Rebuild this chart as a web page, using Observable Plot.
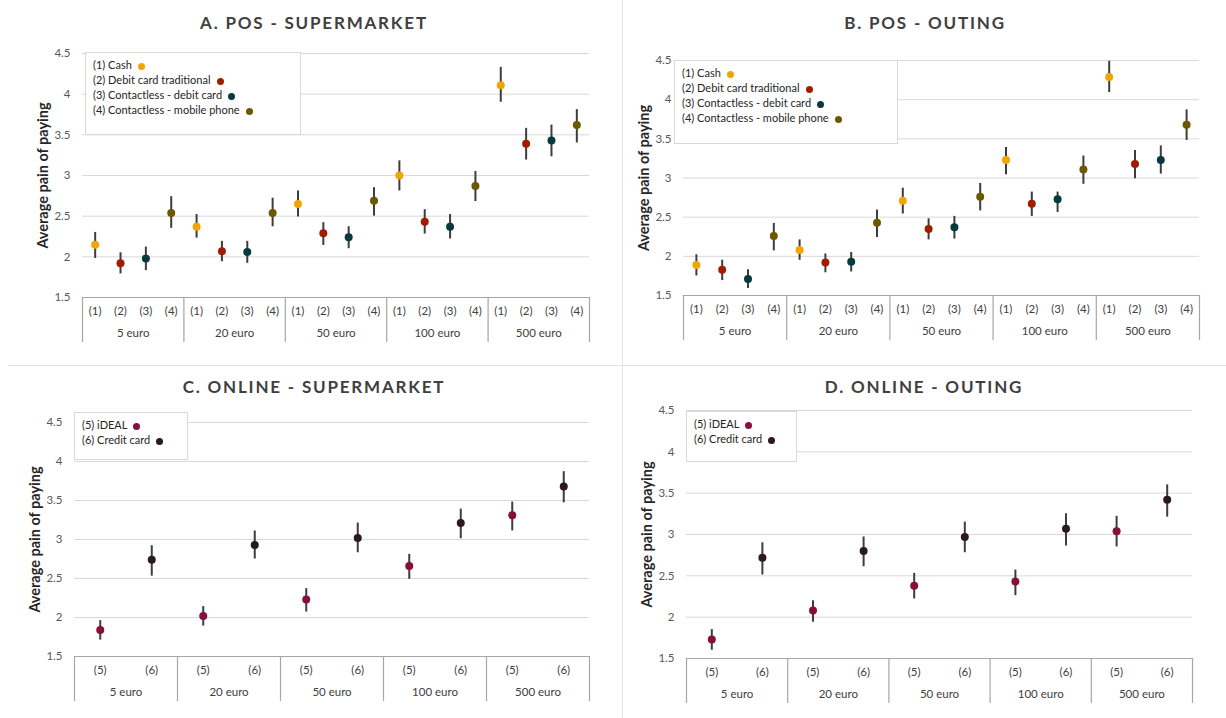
<!DOCTYPE html>
<html>
<head>
<meta charset="utf-8">
<script src="https://cdn.jsdelivr.net/npm/d3@7"></script>
<script src="https://cdn.jsdelivr.net/npm/@observablehq/plot@0.6"></script>
<style>
  body { margin: 0; background: #fff; }
  #page { position: relative; width: 1226px; height: 718px; overflow: hidden; font-family: Lato, "Open Sans", sans-serif; background: #fff; }
  .panel { position: absolute; }
  .panel svg { position: absolute; left: 0; top: 0; }
  .title { position: absolute; transform: translate(-50%, -50%); white-space: nowrap; font-weight: 700; font-size: 17px; letter-spacing: 1.8px; color: #404040; }
  .legend { position: absolute; background: #fff; border: 1px solid #d9d9d9; box-sizing: border-box; padding: 4px 0 0 7px; font-size: 11px; color: #262626; }
  .legend div { height: 15px; line-height: 15px; white-space: nowrap; }
  .dot { display: inline-block; width: 7px; height: 7px; border-radius: 50%; margin-left: 6px; vertical-align: -1px; }
  .hline { position: absolute; left: 8px; right: 0; top: 365px; height: 1px; background: #e3e3e3; }
  .vline { position: absolute; left: 622px; top: 0; bottom: 0; width: 1px; background: #e3e3e3; }
</style>
</head>
<body>
<div id="page">
  <div class="hline"></div>
  <div class="vline"></div>
</div>
<script>
// ---------- data ----------
const amounts = ["5 euro", "20 euro", "50 euro", "100 euro", "500 euro"];
const posMethods = ["(1) Cash", "(2) Debit card traditional", "(3) Contactless - debit card", "(4) Contactless - mobile phone"];
const posCodes = ["(1)", "(2)", "(3)", "(4)"];
const posColors = ["#f2a500", "#a11d00", "#063a3c", "#6b5800"];
const onlineMethods = ["(5) iDEAL", "(6) Credit card"];
const onlineCodes = ["(5)", "(6)"];
const onlineColors = ["#870f3e", "#2a1a1b"];
const yTicks = [1.5, 2, 2.5, 3, 3.5, 4, 4.5];

// A. POS - Supermarket (rows: methods, columns: amounts)
const aMean = [
  [2.15, 2.37, 2.65, 3.00, 4.11],
  [1.92, 2.07, 2.29, 2.43, 3.39],
  [1.98, 2.06, 2.24, 2.37, 3.43],
  [2.54, 2.54, 2.69, 2.87, 3.62]];
const aLow = [
  [1.98, 2.23, 2.49, 2.81, 3.90],
  [1.79, 1.94, 2.14, 2.28, 3.19],
  [1.83, 1.92, 2.10, 2.22, 3.23],
  [2.35, 2.37, 2.50, 2.68, 3.40]];
const aHigh = [
  [2.30, 2.52, 2.81, 3.18, 4.33],
  [2.05, 2.19, 2.42, 2.58, 3.58],
  [2.12, 2.19, 2.37, 2.52, 3.62],
  [2.74, 2.72, 2.85, 3.05, 3.81]];

// B. POS - Outing
const bMean = [
  [1.89, 2.08, 2.71, 3.23, 4.29],
  [1.83, 1.92, 2.35, 2.67, 3.18],
  [1.71, 1.93, 2.37, 2.73, 3.23],
  [2.26, 2.43, 2.76, 3.11, 3.68]];
const bLow = [
  [1.75, 1.95, 2.54, 3.04, 4.09],
  [1.69, 1.79, 2.21, 2.51, 2.99],
  [1.59, 1.80, 2.22, 2.56, 3.05],
  [2.07, 2.24, 2.58, 2.92, 3.48]];
const bHigh = [
  [2.02, 2.21, 2.87, 3.39, 4.49],
  [1.95, 2.03, 2.48, 2.82, 3.35],
  [1.83, 2.05, 2.51, 2.82, 3.41],
  [2.42, 2.59, 2.93, 3.28, 3.87]];

// C. Online - Supermarket
const cMean = [[1.84, 2.02, 2.23, 2.66, 3.31], [2.74, 2.93, 3.02, 3.21, 3.68]];
const cLow  = [[1.71, 1.89, 2.07, 2.49, 3.11], [2.53, 2.75, 2.83, 3.01, 3.47]];
const cHigh = [[1.96, 2.14, 2.37, 2.81, 3.48], [2.92, 3.11, 3.21, 3.39, 3.87]];

// D. Online - Outing
const dMean = [[1.73, 2.08, 2.38, 2.43, 3.04], [2.72, 2.80, 2.97, 3.07, 3.42]];
const dLow  = [[1.60, 1.94, 2.22, 2.26, 2.85], [2.51, 2.61, 2.78, 2.86, 3.21]];
const dHigh = [[1.85, 2.20, 2.53, 2.57, 3.22], [2.90, 2.97, 3.15, 3.25, 3.60]];

// ---------- drawing ----------
function makeRows(methods, codes, mean, lo, hi) {
  const n = methods.length, rows = [];
  amounts.forEach((amount, g) => methods.forEach((method, k) => rows.push({
    amount, method, code: codes[k], pos: g * n + k + 0.5,
    mean: mean[k][g], lo: lo[k][g], hi: hi[k][g]
  })));
  return rows;
}

function panel(cfg) {
  const n = cfg.methods.length;
  const rows = makeRows(cfg.methods, cfg.codes, cfg.mean, cfg.lo, cfg.hi);
  const bounds = amounts.map((a, g) => g * n).concat([amounts.length * n]);
  const centers = amounts.map((a, g) => g * n + n / 2);
  const wrap = document.createElement("div");
  wrap.className = "panel";
  wrap.style.left = cfg.ox + "px"; wrap.style.top = cfg.oy + "px";
  wrap.style.width = cfg.w + "px"; wrap.style.height = cfg.h + "px";

  const chart = Plot.plot({
    width: cfg.w, height: cfg.h,
    marginLeft: cfg.mL, marginRight: cfg.mR, marginTop: cfg.mT, marginBottom: cfg.mB,
    style: { background: "transparent", fontFamily: "Lato, 'Open Sans', sans-serif", overflow: "visible" },
    x: { domain: [0, amounts.length * n], axis: null },
    y: { domain: [1.5, 4.5], axis: null },
    color: { domain: cfg.methods, range: cfg.colors },
    marks: [
      Plot.gridY(yTicks.slice(1), { stroke: "#d9d9d9", strokeOpacity: 1 }),
      Plot.ruleY([1.5], { stroke: "#a6a6a6", strokeWidth: 1.2 }),
      Plot.axisX(bounds, { tickSize: 45, tickFormat: () => "", stroke: "#a6a6a6", strokeWidth: 1.2, label: null }),
      Plot.axisX(rows.map(d => d.pos), { tickSize: 0, tickPadding: 9, fontSize: 11.5, fill: "#404040", label: null,
        tickFormat: p => cfg.codes[Math.floor(p) % n] }),
      Plot.axisX(centers, { tickSize: 0, tickPadding: 31, fontSize: 11.5, fill: "#404040", label: null,
        tickFormat: p => amounts[Math.floor(p / n)] }),
      Plot.axisY(yTicks, { tickSize: 0, tickPadding: 12, fontSize: 11.5, fill: "#595959",
        tickFormat: d => String(d), label: "Average pain of paying", labelAnchor: "center",
        labelArrow: "none", labelOffset: 45 }),
      Plot.ruleX(rows, { x: "pos", y1: "lo", y2: "hi", stroke: "#3d3d3d", strokeWidth: 2 }),
      Plot.dot(rows, { x: "pos", y: "mean", fill: "method", r: 4 })
    ]
  });
  // bold y label
  chart.querySelectorAll("text").forEach(t => {
    if (t.textContent === "Average pain of paying") {
      t.setAttribute("font-weight", "700"); t.style.fontSize = "14.5px"; t.setAttribute("fill", "#262626");
    }
  });
  wrap.appendChild(chart);

  const title = document.createElement("div");
  title.className = "title";
  title.textContent = cfg.title;
  title.style.left = cfg.tx + "px"; title.style.top = cfg.ty + "px";
  wrap.appendChild(title);

  const lg = document.createElement("div");
  lg.className = "legend";
  Object.assign(lg.style, { left: cfg.lg[0] + "px", top: cfg.lg[1] + "px", width: cfg.lg[2] + "px", height: cfg.lg[3] + "px" });
  cfg.methods.forEach((m, i) => {
    const row = document.createElement("div");
    row.textContent = m;
    const dot = document.createElement("span");
    dot.className = "dot"; dot.style.background = cfg.colors[i];
    row.appendChild(dot);
    lg.appendChild(row);
  });
  wrap.appendChild(lg);
  document.getElementById("page").appendChild(wrap);
}

panel({ title: "A. POS - SUPERMARKET", methods: posMethods, codes: posCodes, colors: posColors,
  mean: aMean, lo: aLow, hi: aHigh, ox: 0, oy: 0, w: 613, h: 360, mL: 82, mR: 24, mT: 53, mB: 63,
  tx: 314, ty: 22, lg: [85, 52, 216, 83] });
panel({ title: "B. POS - OUTING", methods: posMethods, codes: posCodes, colors: posColors,
  mean: bMean, lo: bLow, hi: bHigh, ox: 613, oy: 0, w: 613, h: 360, mL: 70, mR: 27, mT: 60, mB: 65,
  tx: 312, ty: 22, lg: [61, 60, 224, 84] });
panel({ title: "C. ONLINE - SUPERMARKET", methods: onlineMethods, codes: onlineCodes, colors: onlineColors,
  mean: cMean, lo: cLow, hi: cHigh, ox: 0, oy: 360, w: 613, h: 358, mL: 74, mR: 24, mT: 62, mB: 62,
  tx: 314, ty: 26, lg: [74, 52, 114, 48] });
panel({ title: "D. ONLINE - OUTING", methods: onlineMethods, codes: onlineCodes, colors: onlineColors,
  mean: dMean, lo: dLow, hi: dHigh, ox: 613, oy: 360, w: 613, h: 358, mL: 73, mR: 34, mT: 50, mB: 60,
  tx: 311, ty: 26, lg: [73, 51, 111, 51] });
</script>
</body>
</html>
